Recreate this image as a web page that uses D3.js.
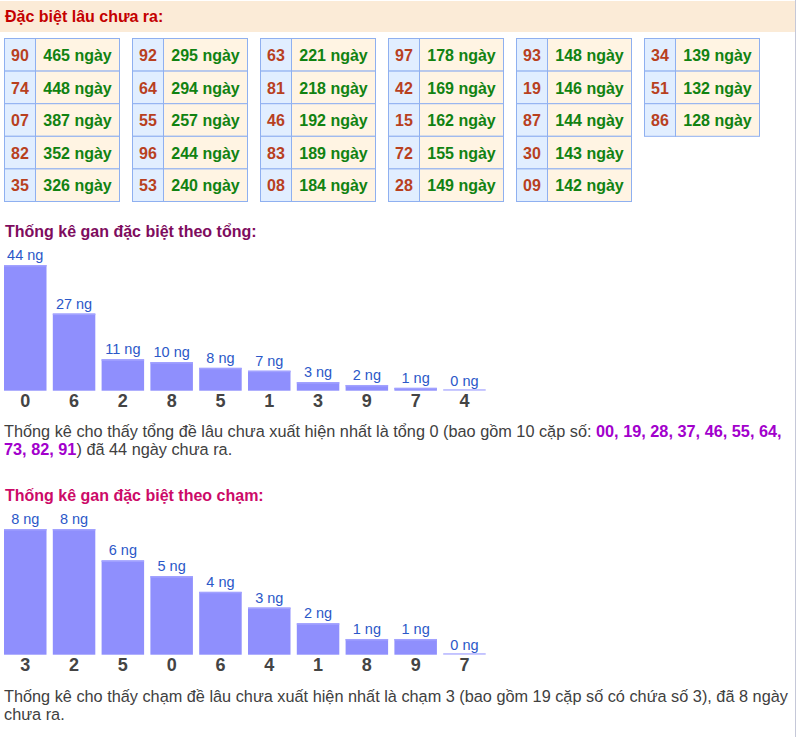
<!DOCTYPE html>
<html>
<head>
<meta charset="utf-8">
<script src="https://cdn.jsdelivr.net/npm/d3@7"></script>
<style>
  html, body { margin: 0; padding: 0; background: #fff; }
  svg { display: block; font-family: Arial, "Liberation Sans", sans-serif; }
</style>
</head>
<body>
<svg id="chart" width="798" height="737"></svg>
<script>
// ---- Data ----
const ganNumbers = ["90","74","07","82","35","92","64","55","96","53","63","81","46","83","08",
                    "97","42","15","72","28","93","19","87","30","09","34","51","86"];
const ganDays = [465,448,387,352,326,295,294,257,244,240,221,218,192,189,184,
                 178,169,162,155,149,148,146,144,143,142,139,132,128];

const tongCategories = ["0","6","2","8","5","1","3","9","7","4"];
const tongValues = [44,27,11,10,8,7,3,2,1,0];

const chamCategories = ["3","2","5","0","6","4","1","8","9","7"];
const chamValues = [8,8,6,5,4,3,2,1,1,0];

const tongPairs = ["00","19","28","37","46","55","64","73","82","91"];

// ---- Drawing ----
const svg = d3.select("#chart");

// header band
svg.append("rect").attr("x", 0).attr("y", 1).attr("width", 795).attr("height", 31).attr("fill", "#fbebd7");
svg.append("line").attr("x1", 795.5).attr("x2", 795.5).attr("y1", 0).attr("y2", 737)
  .attr("stroke", "#c5c8d8").attr("stroke-width", 1);
svg.append("text").attr("x", 5).attr("y", 22).attr("font-size", 16).attr("font-weight", "bold")
  .attr("fill", "#c40000").text("Đặc biệt lâu chưa ra:");

// tables
const tblX = d3.scaleLinear().domain([0, 1]).range([4, 132]);
const rowY = d3.scaleLinear().domain([0, 1]).range([38, 70.6]);
const rowH = 32.6, numW = 31, dayW = 84;
const cells = svg.append("g");
ganNumbers.forEach((num, i) => {
  const t = Math.floor(i / 5), r = i % 5;
  const x = tblX(t), y = rowY(r);
  cells.append("rect").attr("x", x + 0.5).attr("y", y + 0.5).attr("width", numW).attr("height", rowH)
    .attr("fill", "#e1eeff").attr("stroke", "#8fb0f0").attr("stroke-width", 1);
  cells.append("rect").attr("x", x + numW + 0.5).attr("y", y + 0.5).attr("width", dayW).attr("height", rowH)
    .attr("fill", "#fff4e3").attr("stroke", "#8fb0f0").attr("stroke-width", 1);
  cells.append("text").attr("x", x + numW / 2 + 0.5).attr("y", y + 23).attr("text-anchor", "middle")
    .attr("font-size", 16).attr("font-weight", "bold").attr("fill", "#b8401e").text(num);
  cells.append("text").attr("x", x + numW + dayW / 2 + 0.5).attr("y", y + 23).attr("text-anchor", "middle")
    .attr("font-size", 16).attr("font-weight", "bold").attr("fill", "#118211").text(ganDays[i] + " ngày");
});

function barChart(cfg) {
  const g = svg.append("g");
  g.append("text").attr("x", 5).attr("y", cfg.titleY).attr("font-size", 16).attr("font-weight", "bold")
    .attr("fill", cfg.titleColor).text(cfg.title);
  const x = d3.scaleBand().domain(cfg.cats).range([4, 485.7]).paddingInner(0.129).paddingOuter(0);
  const y = d3.scaleLinear().domain([0, d3.max(cfg.vals)]).range([cfg.bottom, cfg.bottom - 125.7]);
  const data = cfg.cats.map((c, i) => ({ c, v: cfg.vals[i] }));
  g.selectAll("rect.bar").data(data.filter(d => d.v > 0)).join("rect").attr("class", "bar")
    .attr("x", d => x(d.c)).attr("width", x.bandwidth())
    .attr("y", d => y(d.v)).attr("height", d => y(0) - y(d.v)).attr("fill", "#8f8ffd");
  g.selectAll("rect.top").data(data).join("rect").attr("class", "top")
    .attr("x", d => x(d.c)).attr("width", x.bandwidth())
    .attr("y", d => d.v > 0 ? y(d.v) : y(0) - 1.5).attr("height", 1.5)
    .attr("fill", d => d.v > 0 ? "#a2a2ff" : "#b4b4ff");
  g.selectAll("text.val").data(data).join("text").attr("class", "val")
    .attr("x", d => x(d.c) + x.bandwidth() / 2).attr("y", d => y(d.v) - 5)
    .attr("text-anchor", "middle").attr("font-size", 14.5).attr("fill", "#2b58c8")
    .text(d => d.v + " ng");
  g.selectAll("text.cat").data(data).join("text").attr("class", "cat")
    .attr("x", d => x(d.c) + x.bandwidth() / 2).attr("y", cfg.bottom + 16.5)
    .attr("text-anchor", "middle").attr("font-size", 18).attr("font-weight", "bold").attr("fill", "#444")
    .text(d => d.c);
}

barChart({ title: "Thống kê gan đặc biệt theo tổng:", titleY: 237, titleColor: "#7e0c5e",
  cats: tongCategories, vals: tongValues, bottom: 390.7 });
barChart({ title: "Thống kê gan đặc biệt theo chạm:", titleY: 501, titleColor: "#cc0a68",
  cats: chamCategories, vals: chamValues, bottom: 654.7 });

// paragraphs
const pColor = "#404040", hl = "#a200cc";
const pSize = 16.3;
const p1 = svg.append("text").attr("x", 4).attr("y", 437).attr("font-size", pSize).attr("fill", pColor);
p1.append("tspan").text("Thống kê cho thấy tổng đề lâu chưa xuất hiện nhất là tổng " + tongCategories[0] +
  " (bao gồm " + tongPairs.length + " cặp số: ");
p1.append("tspan").attr("font-weight", "bold").attr("fill", hl).text(tongPairs.slice(0, 7).join(", ") + ",");
const p1b = svg.append("text").attr("x", 4).attr("y", 455).attr("font-size", pSize).attr("fill", pColor);
p1b.append("tspan").attr("font-weight", "bold").attr("fill", hl).text(tongPairs.slice(7).join(", "));
p1b.append("tspan").text(") đã " + tongValues[0] + " ngày chưa ra.");

svg.append("text").attr("x", 4).attr("y", 702).attr("font-size", pSize).attr("fill", pColor)
  .text("Thống kê cho thấy chạm đề lâu chưa xuất hiện nhất là chạm " + chamCategories[0] +
    " (bao gồm 19 cặp số có chứa số " + chamCategories[0] + "), đã " + chamValues[0] + " ngày");
svg.append("text").attr("x", 4).attr("y", 720).attr("font-size", pSize).attr("fill", pColor).text("chưa ra.");
</script>
</body>
</html>
